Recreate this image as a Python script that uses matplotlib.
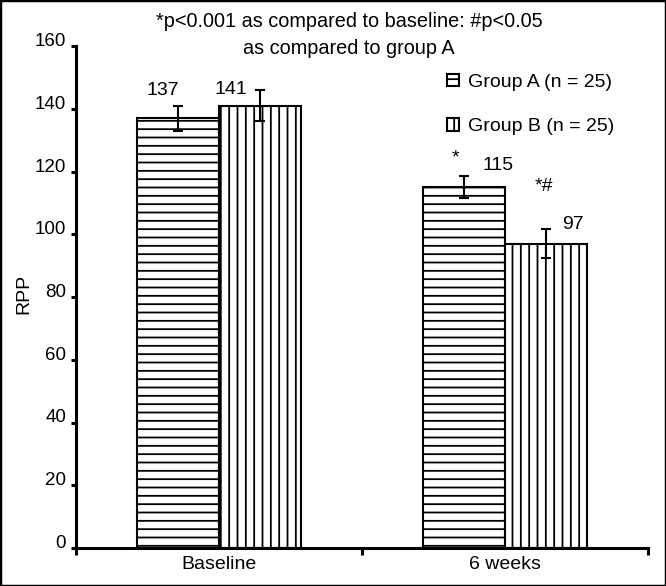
import numpy as np
import matplotlib
matplotlib.use('Agg')
import matplotlib.pyplot as plt
from matplotlib.patches import Rectangle

# data
categories = ['Baseline', '6 weeks']
group_names = ['Group A (n = 25)', 'Group B (n = 25)']
group_a = [137, 115]
group_b = [141, 97]
err_a = [4, 3.5]
err_b = [5, 4.7]
labels_a = ['137', '115']
labels_b = ['141', '97']
marks_a = ['', '*']
marks_b = ['', '*#']
title = '*p<0.001 as compared to baseline: #p<0.05\nas compared to group A'

plt.rcParams['font.family'] = ['Liberation Sans', 'DejaVu Sans']
plt.rcParams['hatch.linewidth'] = 1.3
plt.rcParams['hatch.color'] = 'black'

fig = plt.figure(figsize=(6.66, 5.86), dpi=100)
ax = fig.add_axes([76 / 666, 1 - 548 / 586, 572 / 666, 502 / 586])

width = 0.287
x = np.arange(len(categories)) + 0.5
bars_a = ax.bar(x - width / 2, group_a, width, color='white', edgecolor='black',
                linewidth=1.5, hatch='--', label=group_names[0], zorder=2)
bars_b = ax.bar(x + width / 2, group_b, width, color='white', edgecolor='black',
                linewidth=1.5, hatch='||', label=group_names[1], zorder=2)
ax.errorbar(x - width / 2, group_a, yerr=err_a, fmt='none', ecolor='black',
            elinewidth=1.5, capsize=3.6, capthick=1.5, zorder=3)
ax.errorbar(x + width / 2, group_b, yerr=err_b, fmt='none', ecolor='black',
            elinewidth=1.5, capsize=3.6, capthick=1.5, zorder=3)

# value labels, offsets in pixels from the bar top
val_off_a = [(-15, 28), (34, 22)]
val_off_b = [(-29, 16), (27, 19)]
mark_off_a = [(0, 0), (-8, 29)]
mark_off_b = [(0, 0), (-2, 57)]
for i in range(len(categories)):
    ax.annotate(labels_a[i], (x[i] - width / 2, group_a[i]), xytext=val_off_a[i],
                textcoords='offset pixels', ha='center', va='center', fontsize=14)
    ax.annotate(labels_b[i], (x[i] + width / 2, group_b[i]), xytext=val_off_b[i],
                textcoords='offset pixels', ha='center', va='center', fontsize=14)
    if marks_a[i]:
        ax.annotate(marks_a[i], (x[i] - width / 2, group_a[i]), xytext=mark_off_a[i],
                    textcoords='offset pixels', ha='center', va='center', fontsize=14)
    if marks_b[i]:
        ax.annotate(marks_b[i], (x[i] + width / 2, group_b[i]), xytext=mark_off_b[i],
                    textcoords='offset pixels', ha='center', va='center', fontsize=14)

ax.set_xlim(0, len(categories))
ax.set_ylim(0, 160)
ax.set_yticks(np.arange(0, 161, 20))
ax.set_xticks([0, 1, 2])
ax.set_xticklabels([])
ax.set_xticks(x, minor=True)
ax.set_xticklabels(categories, minor=True, fontsize=14)
ax.tick_params(axis='x', which='major', direction='out', length=5, width=2.2)
ax.tick_params(axis='x', which='minor', length=0, pad=6)
ax.tick_params(axis='y', direction='out', length=3.6, width=2.2, pad=3.6, labelsize=13.5)
for lab in ax.get_yticklabels():
    lab.set_va('baseline')

for s in ['top', 'right']:
    ax.spines[s].set_visible(False)
for s in ['left', 'bottom']:
    ax.spines[s].set_linewidth(2.2)

ax.set_ylabel('RPP', fontsize=14)
ax.yaxis.set_label_coords(-0.077, 0.506)

leg = ax.legend(loc='upper left', bbox_to_anchor=(0.649, 0.945), frameon=False,
                fontsize=14, handlelength=0.6, handleheight=0.6, handletextpad=0.46,
                labelspacing=1.42, borderpad=0, borderaxespad=0)

fig.text(349 / 666, 1 - 12 / 586, title, ha='center', va='top', fontsize=14.3,
         linespacing=1.5)

fig.patches.append(Rectangle((0, 0), 1, 1, transform=fig.transFigure, fill=False,
                             edgecolor='black', linewidth=2.5))

plt.savefig('out.png', dpi=100)
